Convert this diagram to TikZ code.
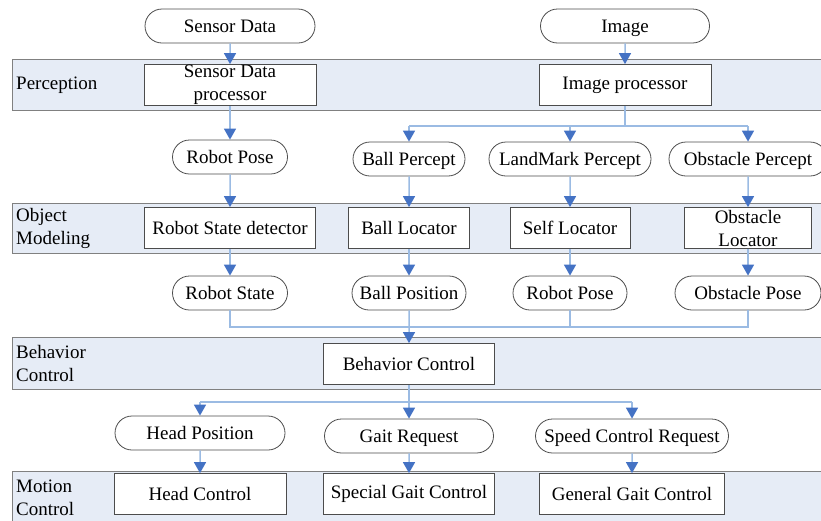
\documentclass[tikz,border=0pt]{standalone}
\usepackage{fontspec}
\setmainfont{Liberation Serif}
\usetikzlibrary{arrows.meta,positioning,shapes.misc,calc}
\definecolor{bandfill}{RGB}{230,236,246}
\definecolor{bandline}{RGB}{128,128,128}
\definecolor{linkblue}{RGB}{155,187,227}
\definecolor{tipblue}{RGB}{68,114,196}

\begin{document}
\begin{tikzpicture}[x=1pt, y=-1pt,
    every node/.style={font=\fontsize{19}{23}\selectfont},
    band/.style={draw=bandline, fill=bandfill, line width=1pt},
    layer/.style={anchor=west, align=left, inner sep=0pt},
    module/.style={draw=gray!60!black, line width=0.8pt, fill=white, minimum height=41pt, align=center, inner xsep=2pt, inner ysep=0pt},
    datum/.style={draw=gray!60!black, line width=0.8pt, fill=white, rounded rectangle, minimum height=34pt, align=center, inner sep=1pt, text height=13pt, text depth=0pt},
    link/.style={draw=linkblue, line width=1.5pt},
    arr/.style={link, -{Triangle[color=tipblue, width=12pt, length=11pt]}}
]
    \useasboundingbox (0,0) rectangle (821,520);

    % layers
    \path[band] (12,59) rectangle (830,110);
    \path[band] (12,203) rectangle (830,253);
    \path[band] (12,337) rectangle (830,389);
    \path[band] (12,471) rectangle (830,530);

    \node[layer] (lperc) at (16,85) {Perception};
    \node[layer] (lobj) at (16,228.5) {Object\\Modeling};
    \node[layer] (lbeh) at (16,363.5) {Behavior\\Control};
    \node[layer] (lmot) at (16,497.5) {Motion\\Control};

    % inputs and perception
    \node[datum, minimum width=172pt] (sdata) at (230,26) {Sensor Data};
    \node[datum, minimum width=171pt] (image) at (625,26) {Image};
    \node[module, minimum width=172pt] (sdproc) at (230,85) {Sensor Data\\processor};
    \node[module, minimum width=172pt] (improc) at (625,85) {Image processor};

    \node[datum, minimum width=117pt] (rpose1) at (230,157) {Robot Pose};
    \node[datum, minimum width=114pt] (ballp) at (409,159) {Ball Percept};
    \node[datum, minimum width=164pt] (lmp) at (570,159) {LandMark Percept};
    \node[datum, minimum width=160pt] (obsp) at (748,159) {Obstacle Percept};

    % object modeling
    \node[module, minimum width=171pt] (rsd) at (230,228) {Robot State detector};
    \node[module, minimum width=121pt] (balloc) at (409,228) {Ball Locator};
    \node[module, minimum width=120pt] (selfloc) at (570,228) {Self Locator};
    \node[module, minimum width=127pt] (obsloc) at (748,228) {Obstacle\\Locator};

    \node[datum, minimum width=117pt] (rstate) at (230,293) {Robot State};
    \node[datum, minimum width=116pt] (ballpos) at (409,293) {Ball Position};
    \node[datum, minimum width=116pt] (rpose2) at (570,293) {Robot Pose};
    \node[datum, minimum width=148pt] (obspose) at (748,293) {Obstacle Pose};

    % behavior
    \node[module, minimum width=171pt] (behav) at (409,364) {Behavior Control};

    \node[datum, minimum width=172pt] (headpos) at (200,433) {Head Position};
    \node[datum, minimum width=171pt] (gaitreq) at (409,436) {Gait Request};
    \node[datum, minimum width=195pt] (speedreq) at (632,436) {Speed Control Request};

    % motion
    \node[module, minimum width=172pt] (headctl) at (200,494) {Head Control};
    \node[module, minimum width=171pt] (sgait) at (409,494) {Special Gait Control};
    \node[module, minimum width=185pt] (ggait) at (632,494) {General Gait Control};

    % connectors
    \coordinate (split1) at (625,126);
    \coordinate (merge) at (409,327);
    \coordinate (split2) at (409,402);

    \draw[arr] (sdata) -- (sdproc);
    \draw[arr] (image) -- (improc);
    \draw[arr] (sdproc) -- (rpose1);
    \draw[link] (improc) -- (split1);
    \draw[link] (split1 -| ballp) -- (split1 -| obsp);
    \foreach \n in {ballp,lmp,obsp}
        \draw[arr] (split1 -| \n) -- (\n);

    \draw[arr] (rpose1) -- (rsd);
    \draw[arr] (ballp) -- (balloc);
    \draw[arr] (lmp) -- (selfloc);
    \draw[arr] (obsp) -- (obsloc);

    \draw[arr] (rsd) -- (rstate);
    \draw[arr] (balloc) -- (ballpos);
    \draw[arr] (selfloc) -- (rpose2);
    \draw[arr] (obsloc) -- (obspose);

    \draw[link] (rstate) |- (merge) -| (obspose);
    \draw[link] (rpose2) -- (rpose2 |- merge);
    \draw[arr] (ballpos) -- (behav);

    \draw[link] (split2 -| headpos) -- (split2 -| speedreq);
    \draw[arr] (behav) -- (gaitreq);
    \draw[arr] (split2 -| headpos) -- (headpos);
    \draw[arr] (split2 -| speedreq) -- (speedreq);

    \draw[arr] (headpos) -- (headctl);
    \draw[arr] (gaitreq) -- (sgait);
    \draw[arr] (speedreq) -- (ggait);
\end{tikzpicture}
\end{document}
